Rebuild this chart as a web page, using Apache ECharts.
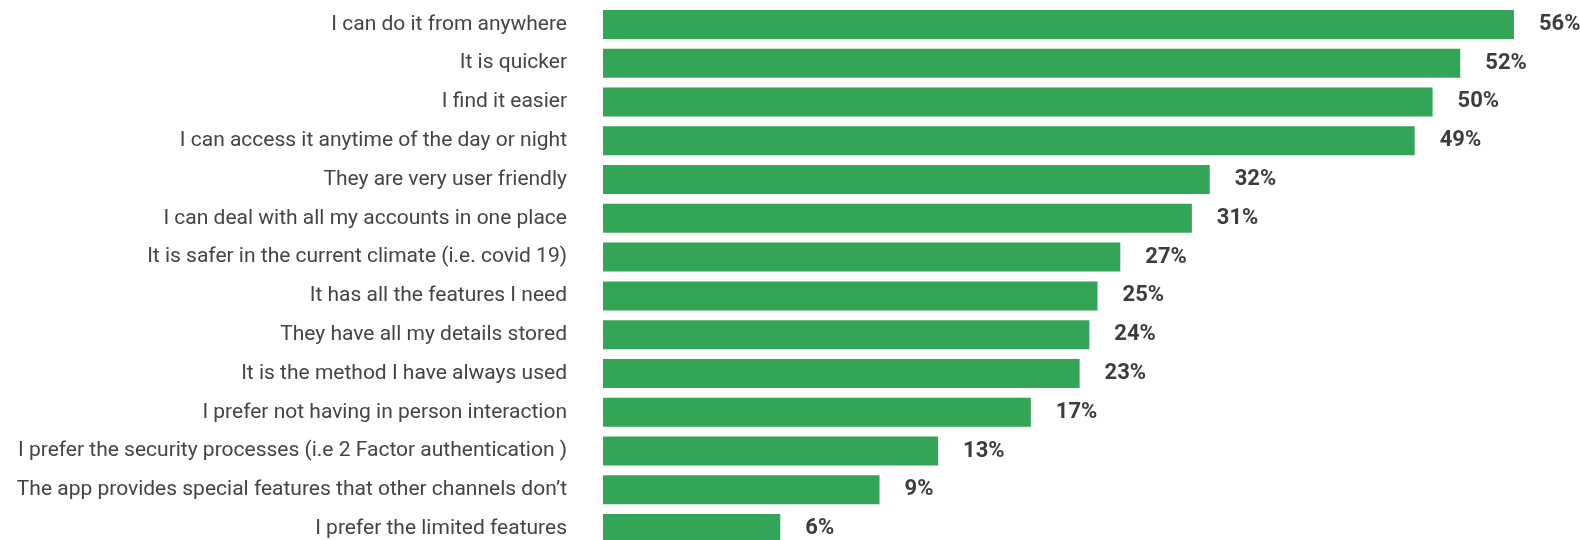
<!DOCTYPE html>
<html>
<head>
<meta charset="utf-8">
<script src="https://cdn.jsdelivr.net/npm/echarts@6/dist/echarts.min.js"></script>
<style>
html,body{margin:0;padding:0;background:#fff;}
#chart{width:1580px;height:540px;}
</style>
</head>
<body>
<div id="chart"></div>
<script>
const categories = [
  "I can do it from anywhere",
  "It is quicker",
  "I find it easier",
  "I can access it anytime of the day or night",
  "They are very user friendly",
  "I can deal with all my accounts in one place",
  "It is safer in the current climate (i.e. covid 19)",
  "It has all the features I need",
  "They have all my details stored",
  "It is the method I have always used",
  "I prefer not having in person interaction",
  "I prefer the security processes (i.e 2 Factor authentication )",
  "The app provides special features that other channels don\u2019t",
  "I prefer the limited features"
];
// bar lengths as drawn in the picture
const barValues = [56.0, 52.7, 51.0, 49.9, 37.3, 36.2, 31.8, 30.4, 29.9, 29.3, 26.3, 20.6, 17.0, 10.9];
// value labels printed at bar ends
const valueLabels = ["56%", "52%", "50%", "49%", "32%", "31%", "27%", "25%", "24%", "23%", "17%", "13%", "9%", "6%"];

const chart = echarts.init(document.getElementById('chart'));
chart.setOption({
  animation: false,
  grid: {left: 603, width: 976, top: 5, height: 543, containLabel: false, outerBoundsMode: 'none'},
  xAxis: {type: 'value', min: 0, max: 60, show: false},
  yAxis: {
    type: 'category', data: categories, inverse: true,
    axisLine: {show: false}, axisTick: {show: false},
    axisLabel: {margin: 36, fontFamily: 'Roboto', fontSize: 21, color: '#444444'}
  },
  series: [{
    type: 'bar',
    data: barValues,
    barWidth: 29,
    itemStyle: {color: '#34a456'},
    label: {
      show: true, position: 'right', distance: 25,
      fontFamily: 'Roboto', fontSize: 22, fontWeight: 'bold', color: '#3d3d3d',
      formatter: p => valueLabels[p.dataIndex]
    }
  }]
});
</script>
</body>
</html>
